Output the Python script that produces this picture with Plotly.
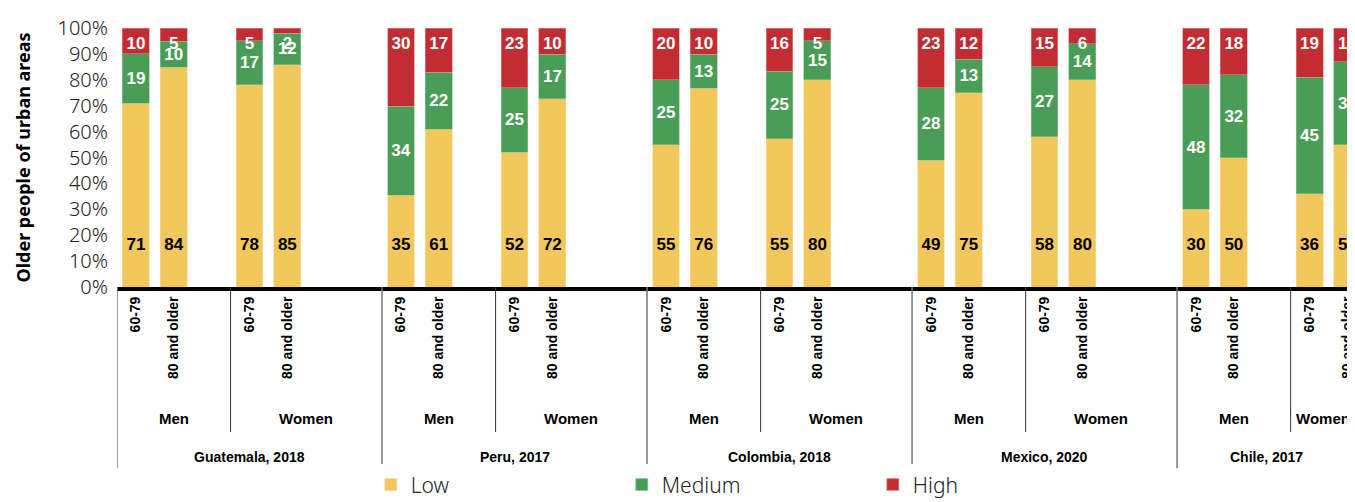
import plotly.graph_objects as go

countries = ['Guatemala, 2018', 'Peru, 2017', 'Colombia, 2018', 'Mexico, 2020', 'Chile, 2017']
genders = ['Men', 'Women']
ages = ['60-79', '80 and older']

# order: country -> gender -> age
low = [71, 84, 78, 85,
       35, 61, 52, 72,
       55, 76, 55, 80,
       49, 75, 58, 80,
       30, 50, 36, 55]
medium = [19, 10, 17, 12,
          34, 22, 25, 17,
          25, 13, 25, 15,
          28, 13, 27, 14,
          48, 32, 45, 32]
high = [10, 5, 5, 2,
        30, 17, 23, 10,
        20, 10, 16, 5,
        23, 12, 15, 6,
        22, 18, 19, 13]

C_LOW = '#F2C75C'
C_MED = '#4A9D57'
C_HIGH = '#C22D34'
COND = 'Liberation Sans, Arial, sans-serif'
SANS = 'Noto Sans, Lato, sans-serif'

COUNTRY_STEP = 7
GENDER_STEP = 3
X_MAX = 32.2

xs, ticktext = [], []
for c in range(len(countries)):
    for g in range(len(genders)):
        for a in range(len(ages)):
            xs.append(COUNTRY_STEP * c + GENDER_STEP * g + a)
            ticktext.append(ages[a])

fig = go.Figure()
fig.add_trace(go.Bar(x=xs, y=low, name='Low', marker_color=C_LOW, width=0.71,
                     marker_line=dict(width=0.6, color='#F7DE9C')))
fig.add_trace(go.Bar(x=xs, y=medium, name='Medium', marker_color=C_MED, width=0.71,
                     marker_line=dict(width=0.6, color='#8CC497'),
                     text=medium, textposition='inside', insidetextanchor='middle',
                     textangle=0,
                     textfont=dict(family=COND, size=17, color='white', weight='bold')))
fig.add_trace(go.Bar(x=xs, y=high, name='High', marker_color=C_HIGH, width=0.71,
                     marker_line=dict(width=0.6, color='#DE8A8E')))

# fixed-height labels for low and high
fig.add_trace(go.Scatter(x=xs, y=[16] * len(xs), mode='text', text=low,
                         textfont=dict(family=COND, size=17, color='black', weight='bold'),
                         showlegend=False, hoverinfo='skip'))
fig.add_trace(go.Scatter(x=xs, y=[93.5] * len(xs), mode='text', text=high,
                         textfont=dict(family=COND, size=17, color='white', weight='bold'),
                         showlegend=False, hoverinfo='skip'))

shapes, annotations = [], []
for c, country in enumerate(countries):
    base = COUNTRY_STEP * c
    left = base - 0.5
    mid = base + GENDER_STEP - 0.5
    right = base + COUNTRY_STEP - 0.5
    shapes.append(dict(type='line', xref='x', yref='paper', x0=left, x1=left,
                       y0=0, y1=-0.7, line=dict(color='#777', width=1.5)))
    shapes.append(dict(type='line', xref='x', yref='paper', x0=mid, x1=mid,
                       y0=0, y1=-0.56, line=dict(color='#333', width=1)))
    men_c = (left + mid) / 2
    wom_c = (mid + min(right, X_MAX)) / 2
    cty_c = (left + min(right, X_MAX)) / 2
    annotations.append(dict(x=men_c, y=-0.506, xref='x', yref='paper', text='Men',
                            yanchor='middle', showarrow=False,
                            font=dict(family=COND, size=15, color='black', weight='bold')))
    annotations.append(dict(x=wom_c, y=-0.506, xref='x', yref='paper', text='Women',
                            yanchor='middle', showarrow=False,
                            font=dict(family=COND, size=15, color='black', weight='bold')))
    annotations.append(dict(x=cty_c, y=-0.656, xref='x', yref='paper', text=country,
                            yanchor='middle', showarrow=False,
                            font=dict(family=COND, size=14, color='black', weight='bold')))

# page has an 8px body margin, so margins are shifted to compensate
fig.update_layout(
    width=1355, height=502,
    barmode='stack', barnorm='percent',
    paper_bgcolor='white', plot_bgcolor='white',
    margin=dict(l=109, r=8, t=20, b=223),
    shapes=shapes, annotations=annotations,
    legend=dict(orientation='h', traceorder='normal', x=0.205, xanchor='left',
                yref='container', y=0.05, yanchor='middle',
                entrywidth=206, font=dict(family=SANS, size=21, color='#222', weight=300)),
    xaxis=dict(range=[-0.5, X_MAX], tickvals=xs, ticktext=ticktext, tickangle=-90,
               showline=True, linecolor='black', linewidth=4, showgrid=False,
               zeroline=False, ticks='', automargin=False,
               tickfont=dict(family=COND, size=14, color='black', weight='bold')),
    yaxis=dict(range=[0, 100], dtick=10, ticksuffix='%', showgrid=False, zeroline=False,
               showline=False, automargin=False, ticklabelstandoff=8,
               tickfont=dict(family=SANS, size=20, color='#222', weight=300),
               title=dict(text='Older people of urban areas', standoff=22,
                          font=dict(family=SANS, size=18, color='black', weight='bold'))),
)

fig.write_html('out.html')
